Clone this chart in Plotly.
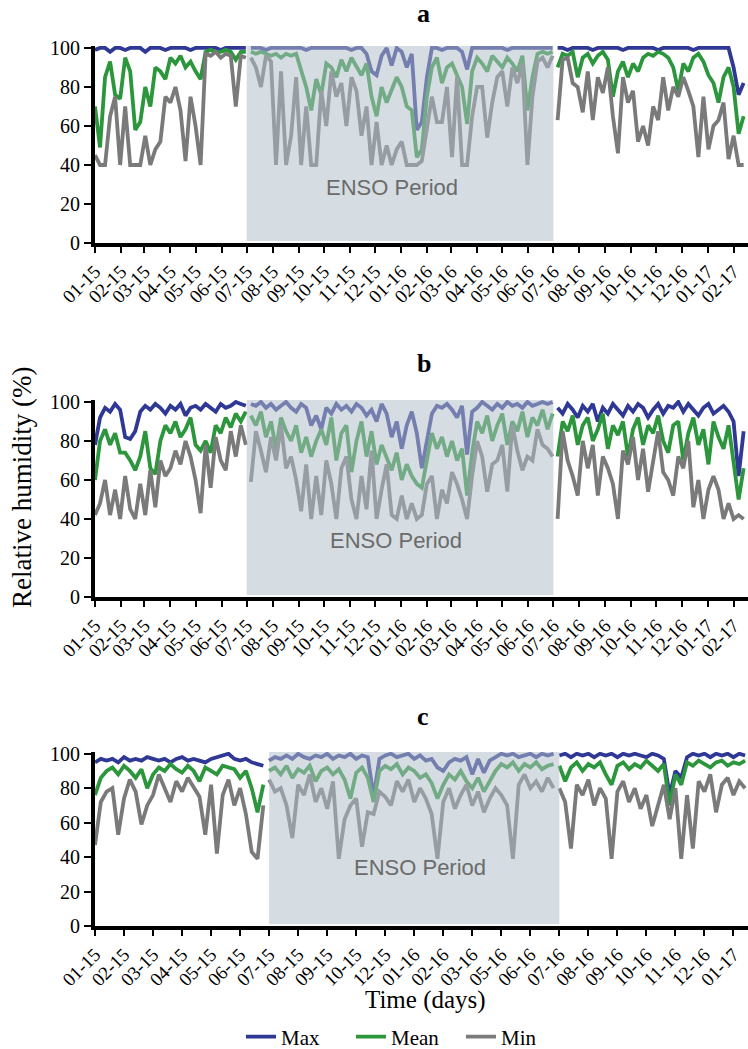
import datetime as dt
import plotly.graph_objects as go

# ---------------- data ----------------
labels_ab = ["01-15", "02-15", "03-15", "04-15", "05-15", "06-15", "07-15", "08-15", "09-15",
             "10-15", "11-15", "12-15", "01-16", "02-16", "03-16", "04-16", "05-16", "06-16",
             "07-16", "08-16", "09-16", "10-16", "11-16", "12-16", "01-17", "02-17"]
labels_c = ["01-15", "02-15", "03-15", "04-15", "05-15", "06-15", "07-15", "08-15", "09-15",
            "10-15", "12-15", "01-16", "02-16", "03-16", "05-16", "06-16", "07-16", "08-16",
            "09-16", "10-16", "11-16", "12-16", "01-17"]

# panel a (one value per 6 days from 2015-01-01)
a_max = [99, 100, 100, 98, 100, 100, 99, 100, 100, 100, 98, 100, 100, 100, 99, 100, 100, 100, 100, 99,
         100, 100, 100, 100, 100, 99, 100, 100, 100, 100, 100,
         100, 100, 100, 99, 100, 100, 100, 100, 100, 100,
         100, 99, 100, 100, 100, 100, 100, 100, 100, 100,
         99, 100, 100, 97, 88, 86, 96, 100, 91, 100,
         98, 90, 97, 58, 62, 85, 100, 100, 99, 100,
         100, 100, 98, 89, 100, 100, 100, 100, 100, 100,
         100, 99, 100, 100, 100, 100, 100, 100, 100, 100, 100,
         100, 100, 99, 100, 100, 100, 100, 99, 100, 100,
         100, 100, 100, 99, 100, 100, 100, 100, 100, 100,
         99, 100, 100, 100, 100, 100, 100, 99, 100, 100,
         100, 100, 100, 100, 100, 90, 76, 82]
a_mean = [70, 49, 85, 93, 76, 74, 95, 88, 58, 62, 80, 70, 90, 88, 84, 95, 92, 96, 90, 93,
          88, 84, 98, 99, 98, 98, 99, 98, 94, 98, 98,
          98, 97, 98, 97, 96, 97, 95, 97, 96, 97,
          88, 80, 68, 84, 76, 92, 90, 85, 94, 88,
          95, 90, 86, 92, 75, 65, 80, 72, 78, 85,
          80, 70, 68, 44, 48, 75, 90, 95, 82, 90,
          92, 86, 80, 61, 88, 95, 92, 88, 96, 93,
          90, 95, 92, 88, 96, 68, 85, 97, 98, 97, 98,
          90, 97, 96, 98, 85, 95, 97, 92, 96, 98,
          94, 75, 88, 93, 85, 92, 88, 95, 97, 96,
          98, 97, 95, 90, 78, 92, 88, 95, 97, 93,
          86, 82, 72, 85, 90, 80, 56, 65]
a_min = [45, 40, 40, 65, 75, 40, 70, 40, 40, 40, 55, 40, 48, 52, 75, 72, 80, 68, 42, 75,
         60, 40, 97, 96, 98, 95, 97, 96, 70, 96, 95,
         95, 90, 80, 96, 93, 40, 88, 40, 55, 85,
         40, 70, 40, 40, 78, 60, 88, 75, 82, 60,
         85, 78, 55, 70, 40, 62, 40, 50, 40, 48,
         52, 40, 40, 40, 42, 60, 75, 62, 62, 80,
         44, 85, 40, 40, 65, 80, 80, 54, 72, 85,
         88, 70, 90, 82, 92, 40, 75, 93, 95, 90, 96,
         63, 94, 95, 82, 80, 67, 88, 63, 85, 77,
         90, 65, 46, 85, 72, 78, 52, 60, 50, 70,
         63, 85, 68, 80, 75, 85, 78, 70, 44, 75,
         48, 60, 63, 72, 43, 55, 40, 40]

# panel b (one value per 6 days from 2015-01-01)
b_max = [78, 92, 97, 95, 99, 96, 82, 81, 85, 95, 98, 96, 99, 97, 94, 98, 96, 99, 93, 97,
         98, 96, 99, 97, 95, 99, 97, 98, 100, 99, 98,
         99, 98, 100, 97, 99, 96, 98, 100, 97, 95,
         99, 97, 88, 93, 86, 97, 94, 99, 96, 98,
         95, 99, 97, 93, 96, 90, 99, 94, 82, 90,
         76, 88, 95, 84, 66, 80, 94, 98, 97, 99,
         96, 92, 98, 73, 95, 97, 100, 98, 96, 99,
         97, 100, 98, 99, 97, 100, 98, 99, 100, 99, 100,
         97, 94, 99, 96, 92, 98, 95, 99, 90, 97,
         94, 99, 96, 93, 98, 95, 99, 97, 92, 96,
         99, 94, 98, 97, 100, 95, 99, 96, 93, 97,
         99, 94, 96, 98, 95, 90, 62, 85]
b_mean = [60, 80, 86, 78, 84, 74, 74, 70, 65, 72, 85, 66, 63, 80, 88, 84, 90, 82, 86, 92,
          78, 75, 80, 74, 88, 84, 92, 87, 94, 90, 95,
          93, 88, 95, 82, 90, 76, 92, 85, 80, 88,
          74, 82, 72, 80, 86, 78, 92, 70, 84, 88,
          64, 80, 90, 72, 85, 68, 78, 72, 65, 74,
          60, 68, 62, 58, 56, 70, 84, 76, 82, 72,
          80, 70, 76, 52, 74, 90, 84, 93, 80, 88,
          94, 78, 90, 85, 95, 82, 92, 88, 96, 86, 94,
          72, 90, 85, 93, 78, 88, 92, 80, 86, 94,
          76, 88, 83, 90, 72, 86, 92, 78, 88, 84,
          93, 80, 74, 88, 90, 70, 84, 92, 78, 86,
          68, 90, 82, 76, 88, 70, 50, 66]
b_min = [42, 48, 60, 42, 55, 40, 62, 45, 40, 58, 42, 65, 46, 70, 62, 66, 75, 68, 80, 72,
         60, 43, 78, 56, 82, 70, 65, 85, 72, 88, 78,
         59, 85, 75, 64, 82, 70, 88, 66, 72, 60,
         44, 68, 40, 62, 42, 70, 58, 40, 66, 72,
         50, 40, 62, 45, 75, 40, 55, 68, 42, 40,
         52, 40, 48, 40, 42, 58, 62, 40, 55, 48,
         64, 58, 50, 40, 62, 80, 72, 54, 68, 70,
         78, 54, 88, 75, 65, 72, 70, 86, 78, 76, 72,
         40, 85, 70, 62, 52, 80, 66, 78, 52, 72,
         66, 58, 40, 75, 68, 82, 60, 76, 54, 70,
         85, 64, 60, 52, 72, 66, 80, 46, 60, 40,
         55, 62, 55, 40, 48, 40, 42, 40]

# panel c (one value per 0.2 of a labelled tick interval)
c_max = [95, 97, 96, 97, 95, 98, 96, 97, 96, 98, 97, 96, 97, 95, 97, 98, 96, 97, 96, 95,
         97, 98, 99, 100, 97, 96, 97, 95, 94, 93,
         96, 98, 97, 99, 97, 100, 98, 97, 99, 98, 100, 97, 99, 98, 100, 97, 99, 98, 75, 97,
         99, 100, 98, 99, 100, 97, 99, 96, 97, 92, 90, 95, 97, 96, 98, 88, 97, 89, 96, 98,
         100, 99, 100, 98, 99, 100, 98, 100, 99, 100,
         99, 100, 98, 100, 99, 100, 98, 100, 99, 100, 98, 100, 99, 100, 99, 98, 100, 99, 97, 76,
         90, 86, 98, 100, 99, 100, 98, 100, 99, 100, 98, 100, 99]
c_mean = [76, 86, 90, 92, 88, 93, 90, 86, 91, 80, 88, 92, 90, 94, 91, 89, 93, 90, 84, 92,
          90, 88, 93, 92, 91, 86, 90, 80, 66, 82,
          90, 92, 88, 93, 86, 91, 89, 93, 84, 90, 92, 88, 91, 85, 74, 89, 92, 86, 72, 90,
          93, 91, 94, 88, 92, 90, 86, 88, 83, 74, 82, 88, 85, 90, 84, 80, 86, 78, 84, 90,
          94, 92, 95, 90, 94, 92, 95, 91, 93, 94,
          93, 84, 92, 95, 90, 94, 92, 95, 88, 82, 93, 95, 91, 94, 92, 96, 93, 90, 94, 70,
          88, 82, 95, 93, 96, 94, 92, 95, 96, 93, 95, 94, 96]
c_min = [47, 72, 78, 80, 53, 74, 85, 78, 59, 70, 76, 88, 80, 72, 84, 78, 86, 80, 75, 53,
         82, 42, 76, 85, 70, 80, 65, 43, 39, 70,
         85, 78, 80, 70, 51, 82, 76, 88, 72, 80, 68, 84, 39, 62, 70, 74, 46, 66, 65, 78,
         75, 70, 84, 78, 85, 72, 80, 74, 65, 39, 72, 80, 68, 76, 82, 70, 78, 66, 74, 80,
         76, 70, 39, 82, 88, 80, 84, 78, 86, 80,
         80, 72, 45, 82, 76, 85, 70, 80, 74, 39, 78, 84, 72, 80, 68, 76, 58, 70, 82, 62,
         80, 39, 76, 45, 84, 78, 88, 66, 82, 86, 76, 84, 80]

# ---------------- helpers ----------------
START = dt.datetime(2015, 1, 1)
ENSO_START = dt.datetime(2015, 7, 1)
ENSO_END = dt.datetime(2016, 7, 1)
STEP_DAYS = 6
C_STEP = 0.2
C_ENSO = (6, 16)

COL_MAX = "#303896"
COL_MEAN = "#2c963c"
COL_MIN = "#7a7a7a"
SERIF = "Liberation Serif"
W, H = 748, 1049


def with_breaks(xs, ys, cuts):
    ox, oy, prev = [], [], None
    for x, y in zip(xs, ys):
        if prev is not None and any(prev < c <= x for c in cuts):
            ox.append(None)
            oy.append(None)
        ox.append(x)
        oy.append(y)
        prev = x
    return ox, oy


def px_x(p):
    return p / W


def px_y(p):
    return 1 - p / H


fig = go.Figure()

panels = [
    dict(key="", vals=(a_max, a_mean, a_min), kind="date", ydom=(243, 46)),
    dict(key="2", vals=(b_max, b_mean, b_min), kind="date", ydom=(597, 400)),
    dict(key="3", vals=(c_max, c_mean, c_min), kind="slot", ydom=(926, 752)),
]
names = ["Max", "Mean", "Min"]
cols = [COL_MAX, COL_MEAN, COL_MIN]

for pi, p in enumerate(panels):
    for si, series in enumerate(p["vals"]):
        if p["kind"] == "date":
            xs = [START + dt.timedelta(days=STEP_DAYS * i) for i in range(len(series))]
            cuts = [ENSO_START, ENSO_END]
        else:
            xs = [round(C_STEP * i, 6) for i in range(len(series))]
            cuts = list(C_ENSO)
        x, y = with_breaks(xs, series, cuts)
        fig.add_trace(go.Scatter(
            x=x, y=y, mode="lines", name=names[si],
            line=dict(color=cols[si], width=3.8, shape="linear"),
            xaxis="x" + p["key"], yaxis="y" + p["key"],
            showlegend=(pi == 0), connectgaps=False,
        ))

axis_common = dict(showline=True, linewidth=4, linecolor="black", showgrid=False,
                   zeroline=False, ticks="outside", tickcolor="black", tickwidth=2,
                   mirror=False, automargin=False)
layout = dict()
xdom = [95 / W, 1.0]
for pi, p in enumerate(panels):
    k = p["key"]
    ydom = [px_y(p["ydom"][0]), px_y(p["ydom"][1])]
    if p["kind"] == "date":
        tickvals = [dt.datetime(2015 + m // 12, m % 12 + 1, 1) for m in range(len(labels_ab))]
        ticktext = labels_ab
        xr = [START, START + dt.timedelta(days=779.2)]
    else:
        tickvals = list(range(len(labels_c)))
        ticktext = labels_c
        xr = [0, 22.5]
    layout["xaxis" + k] = dict(axis_common, domain=xdom, anchor="y" + k, range=xr,
                               tickvals=tickvals, ticktext=ticktext, tickangle=-45, ticklen=6,
                               tickfont=dict(family=SERIF, size=19, color="black"))
    layout["yaxis" + k] = dict(axis_common, domain=ydom, anchor="x" + k, range=[0, 101],
                               tickvals=[0, 20, 40, 60, 80, 100], ticklen=7,
                               tickfont=dict(family=SERIF, size=20, color="black"))

shapes = []
for pi, p in enumerate(panels):
    k = p["key"]
    if p["kind"] == "date":
        x0, x1 = ENSO_START, ENSO_END
    else:
        x0, x1 = C_ENSO
    shapes.append(dict(type="rect", xref="x" + k, yref="y" + k, x0=x0, x1=x1, y0=1, y1=101,
                       fillcolor="rgba(177,190,200,0.53)", line=dict(width=0), layer="above"))

annotations = []
for txt, (xp, yp) in zip(["a", "b", "c"], [(423, 14), (424, 364), (423, 716)]):
    annotations.append(dict(text="<b>" + txt + "</b>", x=px_x(xp), y=px_y(yp), xref="paper",
                            yref="paper", showarrow=False, xanchor="center", yanchor="middle",
                            font=dict(family=SERIF, size=26, color="black")))
for xp, yp in [(392, 187), (396, 540), (420, 867)]:
    annotations.append(dict(text="ENSO Period", x=px_x(xp), y=px_y(yp), xref="paper",
                            yref="paper", showarrow=False, xanchor="center", yanchor="middle",
                            font=dict(family="Liberation Sans", size=22, color="#6b6b6b")))
annotations.append(dict(text="Relative humidity (%)", x=px_x(22), y=px_y(488), xref="paper",
                        yref="paper", showarrow=False, textangle=-90, xanchor="center",
                        yanchor="middle", font=dict(family=SERIF, size=27, color="black")))
annotations.append(dict(text="Time (days)", x=px_x(426), y=px_y(1000), xref="paper",
                        yref="paper", showarrow=False, xanchor="center", yanchor="middle",
                        font=dict(family=SERIF, size=25, color="black")))

fig.update_layout(
    **layout,
    width=W, height=H, margin=dict(l=0, r=0, t=0, b=0, autoexpand=False),
    plot_bgcolor="white", paper_bgcolor="white",
    shapes=shapes, annotations=annotations,
    legend=dict(orientation="h", x=px_x(241), xanchor="left", y=px_y(1037), yanchor="middle",
                entrywidth=65, entrywidthmode="pixels",
                font=dict(family=SERIF, size=21, color="black"), bgcolor="rgba(0,0,0,0)"),
)

fig.write_html("out.html", config={"displayModeBar": False},
               post_script="document.body.style.margin='0';document.body.style.overflow='hidden';")
